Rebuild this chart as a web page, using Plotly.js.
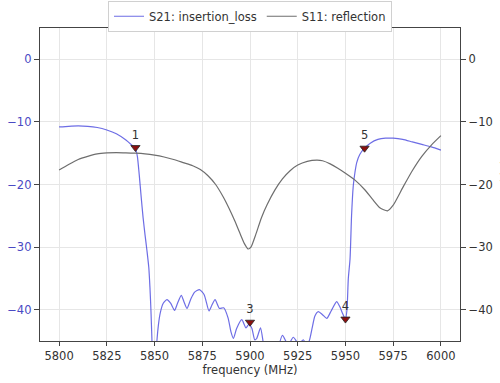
<!DOCTYPE html>
<html>
<head>
<meta charset="utf-8">
<script src="https://cdn.plot.ly/plotly-3.0.1.min.js"></script>
<style>html,body{margin:0;padding:0;background:#fff}#chart{width:500px;height:383px}</style>
</head>
<body>
<div id="chart"></div>
<script>
const s21Freq = [5800,5805,5810,5815,5820,5825,5830,5835,5838,5840,5841,5842,5843,5844,5845,5846,5847,5847.6,5848.1,5848.6,5849.2,5850,5851,5852,5853,5854.5,5856.5,5858.5,5860.5,5862,5864,5865.5,5867,5869,5871,5873.5,5876,5878.5,5880,5881.7,5884,5886.2,5888.5,5890,5891.3,5893,5895.7,5897.9,5899.5,5901,5902.5,5903.5,5905.5,5906.8,5908,5911,5914,5917,5920,5922.7,5925.5,5927.9,5929.5,5931,5932.5,5934,5935.8,5938,5940.2,5942.5,5945.4,5947,5948.5,5950,5950.8,5951.5,5952.4,5953.2,5954.1,5955,5955.9,5957.5,5960,5963,5967,5971,5975,5980,5985,5990,5995,6000];
const s21Val = [-10.8,-10.7,-10.65,-10.7,-10.9,-11.3,-11.9,-12.9,-13.7,-14.3,-15.5,-18.5,-22,-25.3,-28.0,-30.5,-33.3,-36.5,-40,-44.5,-50,-52,-46,-42.5,-40.5,-39,-38.4,-39,-40.1,-39,-37.7,-38.8,-39.8,-38.3,-37.2,-36.8,-37.6,-40.2,-39.3,-38.4,-39.8,-39.7,-41.3,-43.5,-44.6,-43,-41.6,-42.9,-42.3,-43,-44.8,-44.6,-42.9,-45,-48,-50,-47,-44.1,-45.6,-44.4,-45.5,-44.8,-45.5,-45,-43,-41,-40.3,-40.8,-41.4,-40.2,-38.7,-39.5,-40.6,-41.5,-40,-35,-31.9,-25,-20.2,-18,-16.5,-15.2,-14.2,-13.4,-12.8,-12.6,-12.6,-12.8,-13.2,-13.6,-14.0,-14.5];

const s11Freq = [5800,5805,5810,5815,5820,5825,5830,5835,5840,5845,5850,5855,5860,5865,5870,5874,5878,5882,5886,5889,5892,5895,5897,5899,5900.5,5903,5906,5909,5913,5917,5921,5925,5930,5935,5938,5942,5946,5950,5955,5960,5964,5968,5972,5975,5980,5985,5990,5995,6000];
const s11Val = [-17.7,-16.8,-16.0,-15.5,-15.1,-14.95,-14.9,-14.95,-15.0,-15.1,-15.3,-15.6,-16.0,-16.5,-17.0,-17.6,-18.6,-20.0,-22.0,-23.8,-25.8,-28.0,-29.4,-30.3,-30.0,-28.0,-25.3,-23.2,-20.9,-19.1,-17.8,-16.9,-16.3,-16.1,-16.2,-16.7,-17.4,-18.2,-19.3,-20.8,-22.3,-23.7,-24.2,-23.3,-20.5,-17.8,-15.5,-13.7,-12.2];

const markerFreq = [5840, 5900, 5950, 5960];
const markerVal = [-14.1, -42.0, -41.5, -14.2];
const markerLabels = ['1', '3', '4', '5'];

const xTicks = [5800,5825,5850,5875,5900,5925,5950,5975,6000];
const yTicks = [0,-10,-20,-30,-40];

const font = 'DejaVu Sans, sans-serif';
const minus = v => v < 0 ? '\u2212' + Math.abs(v) : String(v);

const traces = [
  {x: s21Freq, y: s21Val, type: 'scatter', mode: 'lines', name: 'S21: insertion_loss',
   line: {color: 'rgba(60,60,220,0.75)', width: 1.2, shape: 'spline', smoothing: 0.6}, yaxis: 'y'},
  {x: s11Freq, y: s11Val, type: 'scatter', mode: 'lines', name: 'S11: reflection',
   line: {color: '#6e6e6e', width: 1.2, shape: 'spline', smoothing: 0.6}, yaxis: 'y2'},
  {x: markerFreq, y: markerVal, type: 'scatter', mode: 'markers+text', text: markerLabels,
   textposition: 'top center', textfont: {family: font, size: 11.5, color: '#333'},
   marker: {symbol: 'triangle-down', size: 8, color: '#8b1010', line: {color: '#222', width: 0.8}},
   showlegend: false, yaxis: 'y', hoverinfo: 'skip'}
];

const layout = {
  width: 500, height: 383,
  margin: {l: 40, r: 40, t: 28, b: 42, autoexpand: false},
  paper_bgcolor: '#fff', plot_bgcolor: '#fff',
  font: {family: font, size: 11.5, color: '#333'},
  showlegend: true,
  legend: {orientation: 'h', x: 0.5, xanchor: 'center', yref: 'container', y: 0.998, yanchor: 'top',
    bgcolor: '#fff', bordercolor: '#d0d0d0', borderwidth: 1, font: {family: font, size: 11.5, color: '#333'}},
  xaxis: {range: [5790, 6010], tickvals: xTicks, ticktext: xTicks.map(String),
    showgrid: true, gridcolor: '#e6e6e6', zeroline: false,
    showline: true, linecolor: '#444', linewidth: 1.2, mirror: true,
    ticks: 'outside', ticklen: 4, tickcolor: '#444', tickfont: {family: font, size: 11.5, color: '#333'},
    title: {text: 'frequency (MHz)', font: {family: font, size: 11.5, color: '#333'}, standoff: 4}},
  yaxis: {range: [-45, 5], tickvals: yTicks, ticktext: yTicks.map(minus),
    showgrid: true, gridcolor: '#e6e6e6', zeroline: false,
    showline: true, linecolor: '#444', linewidth: 1.2,
    ticks: 'outside', ticklen: 5, tickcolor: '#444', tickfont: {family: font, size: 11.5, color: '#4a4ac4'}},
  yaxis2: {range: [-45, 5], overlaying: 'y', side: 'right', tickvals: yTicks,
    ticktext: yTicks.map(minus),
    showgrid: false, zeroline: false, showline: true, linecolor: '#444', linewidth: 1.2,
    ticks: 'outside', ticklen: 5, tickcolor: '#444', tickfont: {family: font, size: 11.5, color: '#333'}},
  annotations: [
    {text: 'S11 (dB)', xref: 'paper', yref: 'paper', x: 1.088, y: 0.5, xanchor: 'left', yanchor: 'middle',
     textangle: -90, showarrow: false, font: {family: font, size: 11.5, color: '#333'}}
  ]
};

Plotly.newPlot('chart', traces, layout, {displayModeBar: false, staticPlot: true});
</script>
</body>
</html>
